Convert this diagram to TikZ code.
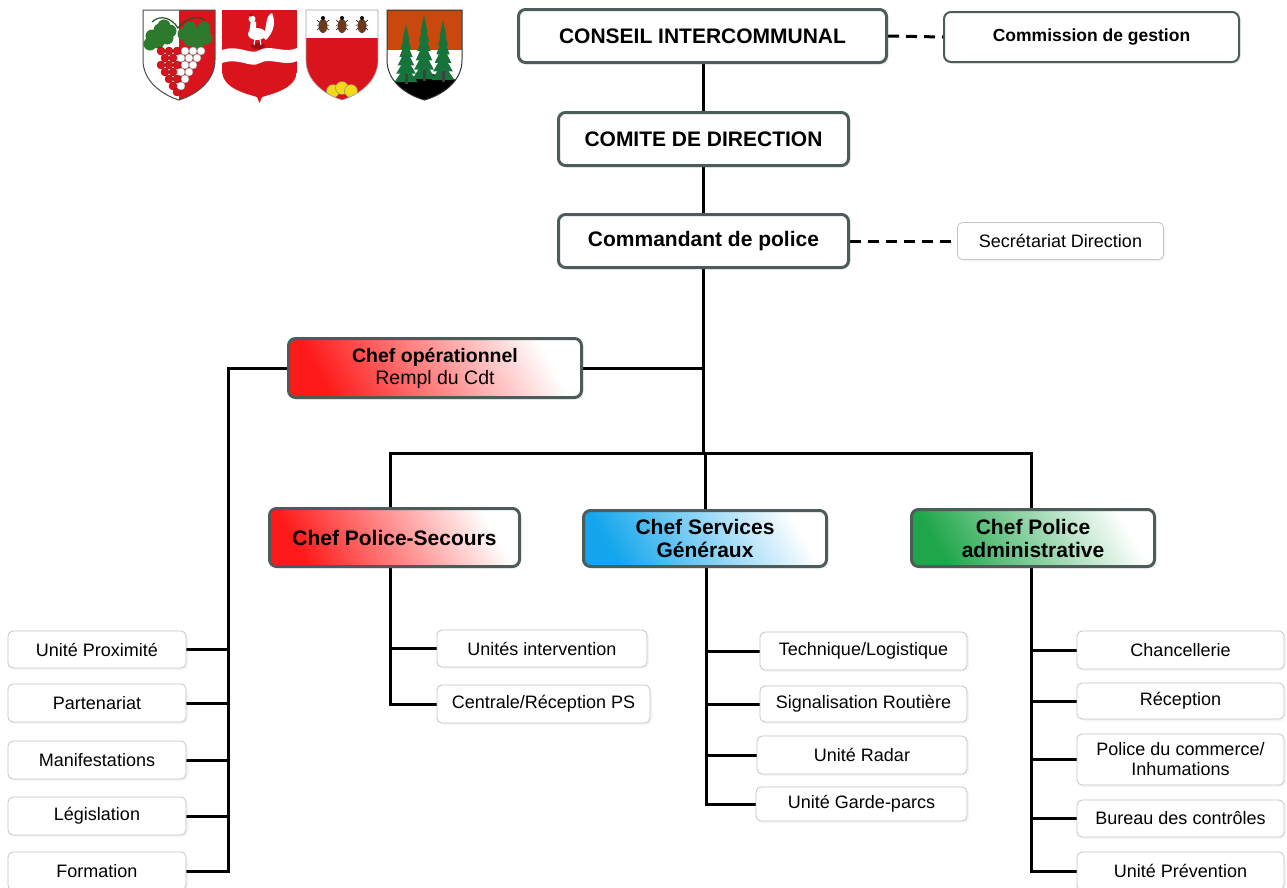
\documentclass[tikz,border=0pt]{standalone}
\usepackage{fontspec}
\setmainfont{Liberation Sans}
\usetikzlibrary{shadows}
\pgfdeclarelayer{bottom}
\pgfdeclarelayer{bg}
\pgfsetlayers{bottom,bg,main}

\definecolor{boxgray}{HTML}{4E5B5B}
\definecolor{smallgray}{HTML}{C4C4C4}
\definecolor{shred}{HTML}{FF1A1A}
\definecolor{shblue}{HTML}{14A6EC}
\definecolor{shgreen}{HTML}{1FA64A}
\definecolor{armred}{HTML}{D9141C}
\definecolor{armgreen}{HTML}{2D7A2E}
\definecolor{armorange}{HTML}{C8480E}
\definecolor{firgreen}{HTML}{16733A}
\definecolor{beetlebrown}{HTML}{6B3A1E}
\definecolor{shellyellow}{HTML}{F2DA1A}

\newcommand\firtree[3]{%
  \pgfmathsetmacro\fstep{(#3-#2)/7}%
  \foreach \k in {0,...,5}{%
    \pgfmathsetmacro\ftop{#2+\k*\fstep}%
    \pgfmathsetmacro\fbot{#2+\k*\fstep+2*\fstep}%
    \pgfmathsetmacro\fhw{3.5+1.6*\k}%
    \fill[firgreen] (#1,\ftop) -- (#1+\fhw,\fbot) -- (#1-\fhw,\fbot) -- cycle;
  }%
  \fill[black!75] (#1-1.5,#3-2*\fstep+\fstep) rectangle (#1+1.5,#3+2);
}

\tikzset{
  mainbox/.style={draw=boxgray, line width=3pt, rounded corners=7pt, fill=white,
    align=center, inner sep=0pt, font=\bfseries\fontsize{21}{23}\selectfont,
    drop shadow={shadow xshift=2pt, shadow yshift=-2pt, opacity=0.12}},
  subbox/.style={draw=smallgray, line width=0.8pt, rounded corners=5pt, fill=white,
    align=center, inner sep=0pt, font=\fontsize{18}{20}\selectfont,
    drop shadow={shadow xshift=2pt, shadow yshift=-2pt, opacity=0.08}},
  link/.style={line width=3pt, black},
  dlink/.style={line width=3pt, black, dash pattern=on 11pt off 7pt},
  redgrad/.style={left color=shred, middle color=shred!30, right color=white, shading angle=120},
  bluegrad/.style={left color=shblue, middle color=shblue!30, right color=white, shading angle=120},
  greengrad/.style={left color=shgreen, middle color=shgreen!35, right color=white, shading angle=120},
}

\begin{document}
\begin{tikzpicture}[x=1pt,y=-1pt]
\useasboundingbox (0,0) rectangle (1287,887);
\begin{pgfonlayer}{bottom}
\fill[white] (0,0) rectangle (1287,887);
\end{pgfonlayer}

% ---------- coats of arms ----------
% shield 1
\begin{scope}
  \clip (143,10) -- (215,10) -- (215,60) .. controls (215,82) and (195,95) .. (179,100)
        .. controls (163,95) and (143,82) .. (143,60) -- cycle;
  \fill[white] (143,10) rectangle (179,100);
  \fill[armred] (179,10) rectangle (215,100);
  \draw[armgreen!70!black, line width=1.2pt] (152,22) .. controls (160,14) and (172,18) .. (178,28) .. controls (184,20) and (196,14) .. (205,20);
  \foreach \p in {(152,36),(160,30),(167,38),(158,42),(150,44),(164,26),(170,31)} \fill[armgreen] \p circle (6.5);
  \foreach \p in {(196,34),(204,28),(206,38),(190,28),(198,43),(190,40),(184,34)} \fill[armgreen] \p circle (6.5);
  \foreach \p in {(161,51),(169,51),(177,51),(165,58),(173,58),(161,65),(169,65),(177,65),(165,72),(173,72),(169,79),(177,79),(173,86),(177,92)}
    \filldraw[fill=armred, draw=armred!60!black, line width=0.4pt] \p circle (4);
  \foreach \p in {(185,51),(193,51),(201,51),(181,58),(189,58),(197,58),(185,65),(193,65),(181,72),(189,72),(185,79),(181,86)}
    \filldraw[fill=white, draw=black!40, line width=0.4pt] \p circle (4);
\end{scope}
\draw[line width=1pt, black!70] (143,10) -- (215,10) -- (215,60) .. controls (215,82) and (195,95) .. (179,100)
        .. controls (163,95) and (143,82) .. (143,60) -- cycle;

% shield 2
\begin{scope}
  \clip (222,10) -- (297,10) -- (297,70) .. controls (297,88) and (275,93) .. (262,97) -- (259.5,103) -- (257,97)
        .. controls (244,93) and (222,88) .. (222,70) -- cycle;
  \fill[armred] (222,10) rectangle (297,103);
  \fill[white] (222,50) .. controls (240,44) and (250,56) .. (260,50) .. controls (270,44) and (285,54) .. (297,48)
     -- (297,61) .. controls (285,67) and (270,57) .. (260,63) .. controls (250,69) and (240,57) .. (222,63) -- cycle;
  \fill[armred!70!black] (258,46) ellipse (7 and 3);
  \fill[white] (257,34) ellipse (9 and 6);
  \fill[white] (249,33) -- (251,20) -- (256,22) -- (256,34) -- cycle;
  \fill[white] (252,19) circle (3.5);
  \fill[armred!80!black] (251,15) circle (1.8);
  \fill[white] (262,36) .. controls (268,30) and (264,16) .. (272,13) .. controls (276,22) and (274,32) .. (266,40) -- cycle;
  \draw[white, line width=1pt] (255,39) -- (254,45) (260,39) -- (261,45);
\end{scope}

% shield 3
\begin{scope}
  \clip (306,10) -- (378,10) -- (378,60) .. controls (378,82) and (358,95) .. (342,100)
        .. controls (326,95) and (306,82) .. (306,60) -- cycle;
  \fill[armred] (306,10) rectangle (378,100);
  \fill[white] (306,10) rectangle (378,38);
  \foreach \bx in {323,342,362}{
    \draw[black, line width=0.5pt] (\bx-6,20) -- (\bx+6,30) (\bx+6,20) -- (\bx-6,30) (\bx-6,25) -- (\bx+6,25);
    \fill[beetlebrown] (\bx,26) ellipse (4.5 and 7);
    \fill[black] (\bx,18) circle (2);
  }
  \foreach \p in {(333,91),(342,88),(351,91)}
    \filldraw[fill=shellyellow, draw=black!50, line width=0.4pt] \p circle (6.5);
\end{scope}
\draw[line width=0.6pt, black!35] (306,10) -- (378,10) -- (378,60) .. controls (378,82) and (358,95) .. (342,100)
        .. controls (326,95) and (306,82) .. (306,60) -- cycle;

% shield 4
\begin{scope}
  \clip (387,10) -- (462,10) -- (462,60) .. controls (462,82) and (442,95) .. (424.5,100)
        .. controls (407,95) and (387,82) .. (387,60) -- cycle;
  \fill[white] (387,10) rectangle (462,100);
  \fill[armorange] (387,10) rectangle (462,50);
  \fill[black] (387,88) .. controls (395,80) and (404,76) .. (412,79) .. controls (418,72) and (432,71) .. (438,77)
     .. controls (448,74) and (458,80) .. (462,86) -- (462,100) -- (387,100) -- cycle;
  \firtree{406}{24}{82}
  \firtree{443}{20}{80}
  \firtree{424}{14}{79}
\end{scope}
\draw[line width=1pt, black!80] (387,10) -- (462,10) -- (462,60) .. controls (462,82) and (442,95) .. (424.5,100)
        .. controls (407,95) and (387,82) .. (387,60) -- cycle;

% ---------- main boxes ----------
\node[mainbox, minimum width=368, minimum height=53] (ci) at (702.5,36) {CONSEIL INTERCOMMUNAL};
\node[mainbox, line width=2pt, minimum width=295, minimum height=50, font=\bfseries\fontsize{17.5}{20}\selectfont] (cg) at (1091.5,37) {Commission de gestion};
\node[mainbox, minimum width=290, minimum height=53] (cd) at (703.5,139) {COMITE DE DIRECTION};
\node[mainbox, minimum width=290, minimum height=53] (cmd) at (703.5,241) {Commandant de police};
\node[subbox, minimum width=206, minimum height=37] (sec) at (1060.5,241) {Secrétariat Direction};

\node[mainbox, redgrad, minimum width=293, minimum height=59, font=\fontsize{19.5}{22}\selectfont] (cop) at (435,368)
  {{\bfseries Chef opérationnel}\\Rempl du Cdt};
\node[mainbox, redgrad, minimum width=250, minimum height=58] (cps) at (394.5,537.5) {Chef Police-Secours};
\node[mainbox, bluegrad, minimum width=243, minimum height=56] (csg) at (705,538.5) {Chef Services\\Généraux};
\node[mainbox, greengrad, minimum width=243, minimum height=57] (cpa) at (1033,538) {Chef Police\\administrative};

% ---------- left column ----------
\node[subbox, minimum width=178, minimum height=37] (up) at (97,649.5) {Unité Proximité};
\node[subbox, minimum width=178, minimum height=38] (part) at (97,703) {Partenariat};
\node[subbox, minimum width=178, minimum height=38] (man) at (97,760) {Manifestations};
\node[subbox, minimum width=178, minimum height=38] (leg) at (97,816) {Législation};
\node[subbox, minimum width=178, minimum height=38] (form) at (97,871) {Formation};

% ---------- police-secours ----------
\node[subbox, minimum width=210, minimum height=37] (ui) at (542,648.5) {Unités intervention};
\node[subbox, minimum width=213, minimum height=38] (crp) at (543.5,704) {Centrale/Réception PS};

% ---------- services generaux ----------
\node[subbox, minimum width=207, minimum height=38] (tl) at (863.5,651) {Technique/Logistique};
\node[subbox, minimum width=207, minimum height=36] (sr) at (863.5,704) {Signalisation Routière};
\node[subbox, minimum width=210, minimum height=38] (ur) at (862,755) {Unité Radar};
\node[subbox, minimum width=211, minimum height=34] (ugp) at (861.5,804) {Unité Garde-parcs};

% ---------- police administrative ----------
\node[subbox, minimum width=207, minimum height=38] (chan) at (1180.5,650) {Chancellerie};
\node[subbox, minimum width=207, minimum height=36] (rec) at (1180.5,701) {Réception};
\node[subbox, minimum width=207, minimum height=51] (pdc) at (1180.5,759.5) {Police du commerce/\\Inhumations};
\node[subbox, minimum width=207, minimum height=37] (bdc) at (1180.5,818.5) {Bureau des contrôles};
\node[subbox, minimum width=207, minimum height=38] (uprev) at (1180.5,871) {Unité Prévention};

% ---------- connectors ----------
\begin{pgfonlayer}{bg}
  \draw[link] (cd.north) -- (cd.north |- ci.south);
  \draw[link] (cd.south) -- (cmd.north);
  \coordinate (bus) at (703.5,453);
  \draw[link] (cmd.south) -- (bus);
  \draw[link] (cop.east) -- (cop.east -| cmd.south);
  \draw[link] ([xshift=-4.5pt]cps.north) |- (bus) -| ([xshift=-2pt]cpa.north);
  \draw[link] (csg.north) -- (csg.north |- bus);
  \draw[dlink] (ci.east) -- (cg.west);
  \draw[dlink] (cmd.east) -- (sec.west);

  \coordinate (lv) at (228,368);
  \draw[link] (cop.west) -- (lv) |- (form.east);
  \foreach \n in {up,part,man,leg} \draw[link] (\n.east) -- (\n.east -| lv);

  \coordinate (psv) at ([xshift=-4.5pt]cps.south);
  \draw[link] (psv) |- (crp.west);
  \draw[link] (ui.west) -- (ui.west -| psv);

  \coordinate (sgv) at ([xshift=1pt]csg.south);
  \draw[link] (sgv) |- (ugp.west);
  \foreach \n in {tl,sr,ur} \draw[link] (\n.west) -- (\n.west -| sgv);

  \coordinate (pav) at ([xshift=-2pt]cpa.south);
  \draw[link] (pav) |- (uprev.west);
  \foreach \n in {chan,rec,pdc,bdc} \draw[link] (\n.west) -- (\n.west -| pav);
\end{pgfonlayer}
\end{tikzpicture}
\end{document}
